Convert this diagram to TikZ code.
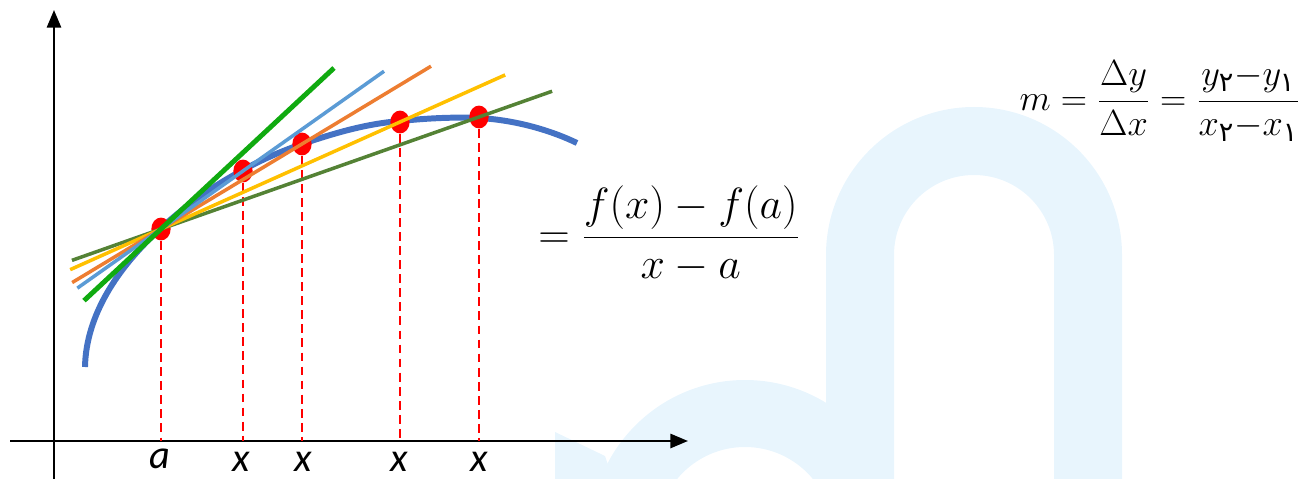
\documentclass[tikz,border=0pt]{standalone}
\usepackage{fontspec}
\usepackage{amsmath}
\usetikzlibrary{calc,arrows.meta,shapes.geometric}
\newfontfamily\carlito{Carlito}
\newfontfamily\arabicfont[Script=Arabic]{DejaVu Sans}
\definecolor{curvecol}{RGB}{68,114,196}
\definecolor{tancol}{RGB}{16,170,16}
\definecolor{secAcol}{RGB}{91,155,213}
\definecolor{secBcol}{RGB}{237,125,49}
\definecolor{secCcol}{RGB}{255,192,0}
\definecolor{secDcol}{RGB}{84,130,53}
\definecolor{dotcol}{RGB}{255,0,0}
\definecolor{markcol}{RGB}{232,245,253}
\newcommand{\pd}[1]{\text{\arabicfont #1}}
\newcommand{\secant}[4]{\draw[#1, line width=2pt] ($(A)!#3!(#2)$) -- ($(A)!#4!(#2)$);}

\begin{document}
\begin{tikzpicture}[x=0.02cm, y=-0.02cm,
  dot/.style={ellipse, fill=dotcol, minimum width=11pt, minimum height=13pt, inner sep=0pt},
  dropline/.style={dotcol, line width=1.1pt, dash pattern=on 5pt off 3pt},
  axis/.style={black, line width=1.4pt, -{Triangle[length=10pt, width=8pt]}},
  axlbl/.style={font=\carlito\itshape\fontsize{23}{26}\selectfont, inner sep=0pt, anchor=base}]
\useasboundingbox (0,0) rectangle (1304,479);

% ------------------------------------------------------------------
% Watermark in the background (arch + bowl)
% ------------------------------------------------------------------
\begin{scope}
  \clip (0,0) rectangle (1304,479);
  \fill[markcol] (826,500) -- (826,255) arc[start angle=180, end angle=360, radius=148]
    -- (1122,500) -- (1054,500) -- (1054,255) arc[start angle=360, end angle=180, radius=80]
    -- (894,500) -- cycle;
  \fill[markcol, even odd rule] (745,535) circle[radius=155] (745,535) circle[radius=88];
  \fill[markcol] (555,432) -- (605,456) -- (620,500) -- (555,500) -- cycle;
\end{scope}

% ------------------------------------------------------------------
% Axes
% ------------------------------------------------------------------
\coordinate (O) at (54,441);
\coordinate (xstart) at (10,441);
\coordinate (xend) at (688,441);
\coordinate (ystart) at (54,479);
\coordinate (yend) at (54,10);
\draw[axis] (xstart) -- (xend);
\draw[axis] (ystart) -- (yend);

% ------------------------------------------------------------------
% Curve f and the points on it
% ------------------------------------------------------------------
\draw[curvecol, line width=3.4pt]
  (85,367) .. controls (86,315) and (118,267) .. (161,228)
  .. controls (190,202) and (215,185) .. (243,170)
  .. controls (263,159) and (282,151) .. (302,144)
  .. controls (335,133) and (365,124) .. (400,121)
  .. controls (430,118) and (455,117) .. (479,118)
  .. controls (515,120) and (550,130) .. (577,143);

\node[dot] (A)  at (161,229) {};
\node[dot] (P1) at (243,171) {};
\node[dot] (P2) at (302,144) {};
\node[dot] (P3) at (400,122) {};
\node[dot] (P4) at (479,117) {};

\foreach \p in {A,P1,P2,P3,P4}{ \draw[dropline] (\p.south) -- (\p |- O); }

% ------------------------------------------------------------------
% Secants through A, then the tangent at A
% ------------------------------------------------------------------
\secant{secDcol}{P4}{-0.28}{1.23}
\secant{secCcol}{P3}{-0.38}{1.44}
\secant{secBcol}{P2}{-0.63}{1.915}
\secant{secAcol}{P1}{-1.02}{2.72}
\coordinate (T) at (334,68);
\draw[tancol, line width=2.8pt] ($(A)!-0.445!(T)$) -- (T);

% ------------------------------------------------------------------
% Labels on the x axis
% ------------------------------------------------------------------
\node[axlbl] (la)  at (160,468) {a};
\node[axlbl] (lx1) at (241,471) {x};
\node[axlbl] (lx2) at (303,471) {x};
\node[axlbl] (lx3) at (399,471) {x};
\node[axlbl] (lx4) at (479,471) {x};

% ------------------------------------------------------------------
% Formulas
% ------------------------------------------------------------------
\node[font=\fontsize{23}{28}\selectfont] (slope) at (669,234)
  {$= \dfrac{f(x)-f(a)}{x-a}$};
\node[font=\fontsize{22}{26}\selectfont] (mdef) at (1160,101)
  {$m = \dfrac{\Delta y}{\Delta x} = \dfrac{y_{\pd{۲}}{-}y_{\pd{۱}}}{x_{\pd{۲}}{-}x_{\pd{۱}}}$};

\end{tikzpicture}
\end{document}
